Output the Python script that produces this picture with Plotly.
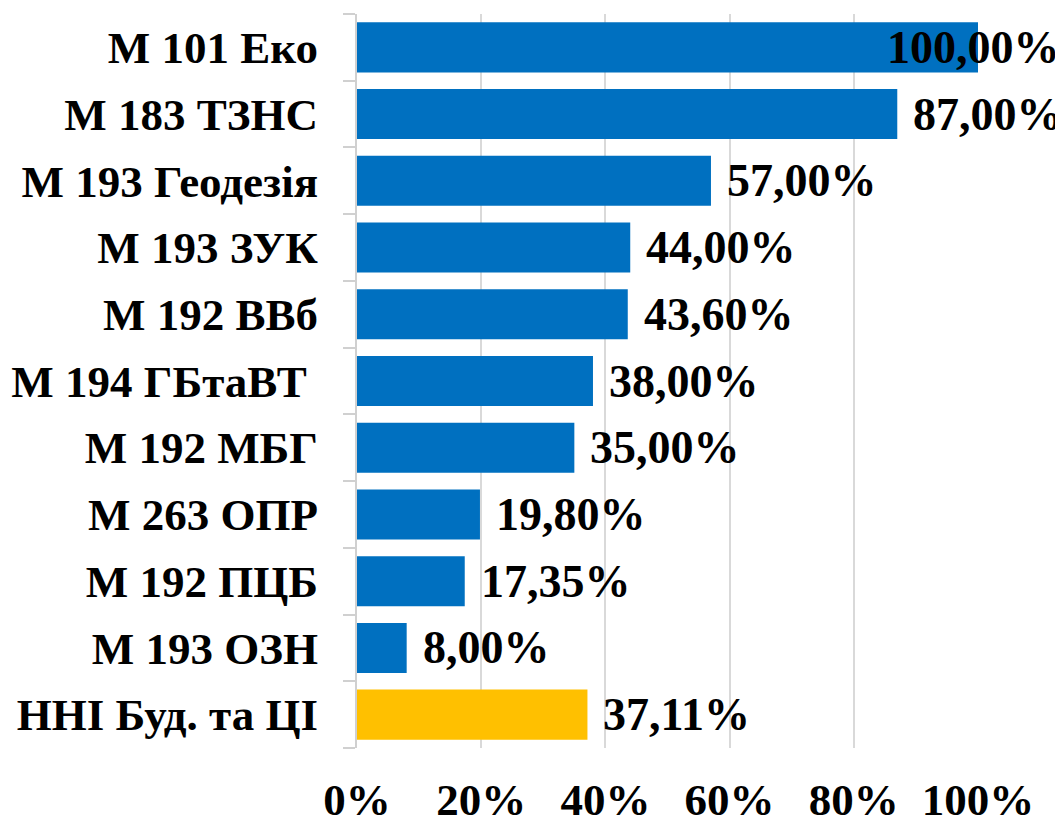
import plotly.graph_objects as go

categories = ["М 101 Еко", "М 183 ТЗНС", "М 193 Геодезія", "М 193 ЗУК", "М 192 ВВб",
              "М 194 ГБтаВТ\u00a0", "М 192 МБГ", "М 263 ОПР", "М 192 ПЦБ", "М 193 ОЗН",
              "ННІ Буд. та ЦІ"]
values = [100.00, 87.00, 57.00, 44.00, 43.60, 38.00, 35.00, 19.80, 17.35, 8.00, 37.11]
labels = ["100,00%", "87,00%", "57,00%", "44,00%", "43,60%", "38,00%", "35,00%",
          "19,80%", "17,35%", "8,00%", "37,11%"]
colors = ["#0070C0"] * 10 + ["#FFC000"]
x_ticks = [0, 20, 40, 60, 80, 100]
x_tick_labels = ["0%", "20%", "40%", "60%", "80%", "100%"]

FONT = "Liberation Serif"
fig = go.Figure()
fig.add_trace(go.Bar(
    y=categories, x=values, orientation="h",
    marker=dict(color=colors, line=dict(width=0)),
    hoverinfo="skip",
))

vmax = max(values)
for c, v, t in zip(categories, values, labels):
    if v >= vmax:
        fig.add_annotation(x=v, y=c, text="<b>%s</b>" % t, showarrow=False,
                           xanchor="right", xshift=84, yanchor="middle",
                           font=dict(family=FONT, size=46, color="black"))
    else:
        fig.add_annotation(x=v, y=c, text="<b>%s</b>" % t, showarrow=False,
                           xanchor="left", xshift=14, yanchor="middle",
                           font=dict(family=FONT, size=46, color="black"))

fig.update_layout(
    width=1055, height=817,
    margin=dict(l=349, r=85, t=6, b=77),
    paper_bgcolor="white", plot_bgcolor="white",
    bargap=0.25,
    showlegend=False,
    font=dict(family=FONT, color="black"),
)
fig.update_xaxes(
    range=[0, 100], tickvals=x_ticks, ticktext=["<b>%s</b>" % s for s in x_tick_labels],
    showgrid=True, gridcolor="#D9D9D9", gridwidth=2, zeroline=False,
    showline=False, ticks="", tickfont=dict(family=FONT, size=45, color="black"),
    ticklabelstandoff=21, fixedrange=True, automargin=False,
)
fig.update_yaxes(
    categoryorder="array", categoryarray=categories, autorange="reversed",
    tickvals=categories, ticktext=["<b>%s</b>" % s for s in categories],
    showline=True, linecolor="#D0D0D0", linewidth=2,
    ticks="outside", tickson="boundaries", ticklen=12, tickcolor="#D0D0D0", tickwidth=2,
    tickfont=dict(family=FONT, size=45, color="black"),
    ticklabelstandoff=28, showgrid=False, fixedrange=True, automargin=False,
)

fig.write_html("out.html")
